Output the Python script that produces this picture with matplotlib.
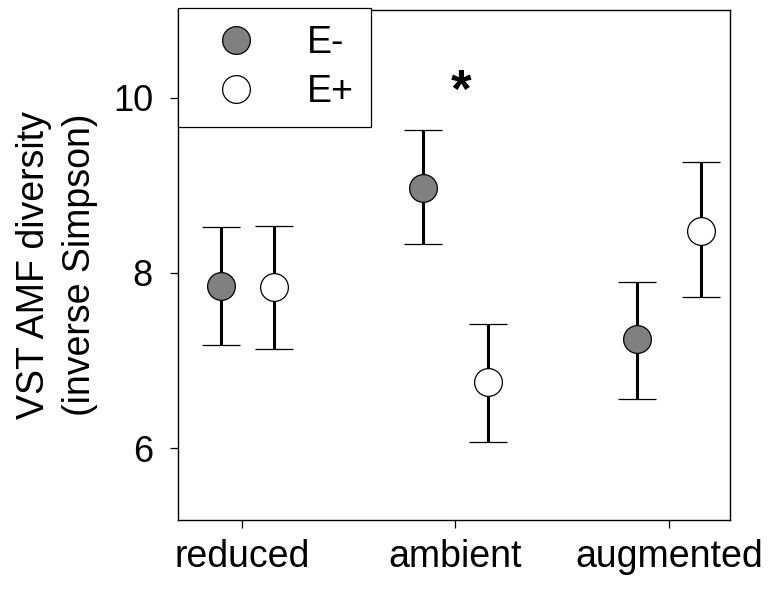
import matplotlib
matplotlib.use("Agg")
import matplotlib.pyplot as plt
from matplotlib.lines import Line2D
import numpy as np

plt.rcParams['font.family'] = ['Liberation Sans', 'DejaVu Sans']

# Data: mean inverse Simpson diversity with lower/upper error bounds
categories = ["reduced", "ambient", "augmented"]
e_minus_mean = [7.85, 8.97, 7.24]
e_minus_low = [7.18, 8.33, 6.56]
e_minus_high = [8.52, 9.63, 7.90]
e_plus_mean = [7.84, 6.75, 8.48]
e_plus_low = [7.13, 6.07, 7.72]
e_plus_high = [8.54, 7.42, 9.26]
series_labels = ["E-", "E+"]
yticks = [6, 8, 10]

# horizontal placement of each group's points relative to its category
base = np.arange(len(categories))
x_minus = base + np.array([-0.10, -0.15, -0.15])
x_plus = base + np.array([0.15, 0.15, 0.15])

fig = plt.figure(figsize=(7.7, 5.9), dpi=100)
ax = fig.add_axes([178 / 770, 70 / 590, 552 / 770, 510 / 590])

err_kw = dict(fmt='o', markersize=20, markeredgecolor='black', markeredgewidth=0.9,
              ecolor='black', elinewidth=2.2, capsize=13.5, capthick=2.2, zorder=3)

def bounds(mean, low, high):
    mean = np.asarray(mean)
    return np.vstack([mean - np.asarray(low), np.asarray(high) - mean])

ax.errorbar(x_minus, e_minus_mean, yerr=bounds(e_minus_mean, e_minus_low, e_minus_high),
            markerfacecolor='#808080', **err_kw)
ax.errorbar(x_plus, e_plus_mean, yerr=bounds(e_plus_mean, e_plus_low, e_plus_high),
            markerfacecolor='white', **err_kw)

# significance marker over the ambient group
ax.text(1.026, 10.05, "*", ha='center', va='center', fontsize=38, fontweight='bold')

ax.set_xlim(-0.30, 2.286)
ax.set_ylim(5.18, 11.0)
ax.set_xticks(base)
ax.set_xticklabels(categories)
ax.set_yticks(yticks)
ax.tick_params(axis='both', direction='out', length=6, width=0.9, labelsize=27)
ax.tick_params(axis='y', pad=12, labelsize=26)
ax.tick_params(axis='x', pad=7.5)
for s in ax.spines.values():
    s.set_linewidth(1.0)

ax.set_ylabel("VST AMF diversity\n(inverse Simpson)", fontsize=27, linespacing=1.35)
ax.yaxis.set_label_coords(-0.145, 0.5)

handles = [
    Line2D([], [], marker='o', linestyle='none', markersize=20, markerfacecolor='#808080',
           markeredgecolor='black', markeredgewidth=0.9),
    Line2D([], [], marker='o', linestyle='none', markersize=20, markerfacecolor='white',
           markeredgecolor='black', markeredgewidth=0.9),
]
leg = ax.legend(handles, series_labels, loc='upper left', bbox_to_anchor=(0, 1.004),
                borderaxespad=0, fontsize=27, frameon=True, fancybox=False,
                edgecolor='black', framealpha=1, handletextpad=0.8, labelspacing=0.36,
                borderpad=0.45, handlelength=2.2)
leg.get_frame().set_linewidth(0.9)

fig.savefig("out.png", dpi=100)
